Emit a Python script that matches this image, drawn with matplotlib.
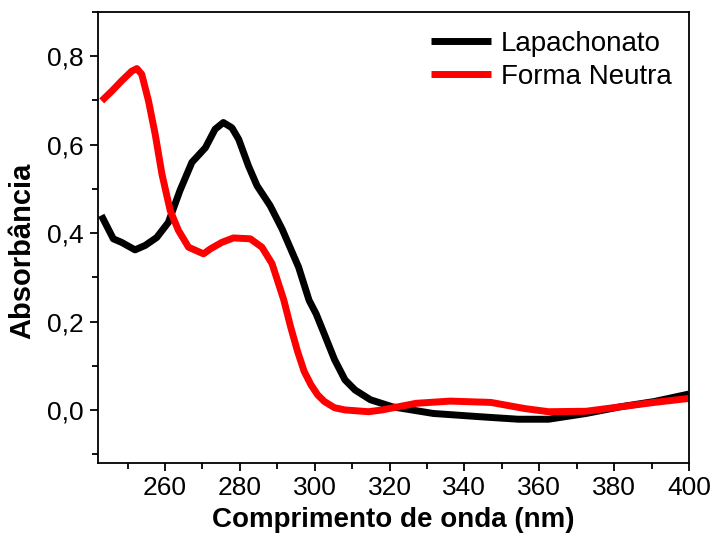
import numpy as np
import matplotlib
matplotlib.use("Agg")
import matplotlib.pyplot as plt
from matplotlib.ticker import MultipleLocator, FuncFormatter

# espectros UV-Vis (comprimento de onda em nm, absorbancia)
wl_lapachonato = [243.0, 246.2, 248.4, 252.0, 254.7, 257.8, 260.9, 264.0, 267.2, 270.8,
                  273.4, 275.6, 277.9, 279.7, 282.3, 284.6, 288.1, 291.3, 295.7, 298.5,
                  300.4, 302.6, 305.3, 308.1, 310.8, 314.9, 320.8, 331.7, 345.3, 354.4,
                  362.5, 372.5, 381.6, 390.7, 400.0]
abs_lapachonato = [0.440, 0.387, 0.379, 0.362, 0.372, 0.390, 0.424, 0.496, 0.560, 0.593,
                   0.635, 0.650, 0.638, 0.612, 0.552, 0.507, 0.462, 0.409, 0.323, 0.248,
                   0.217, 0.171, 0.114, 0.068, 0.045, 0.023, 0.007, -0.008, -0.016, -0.021,
                   -0.021, -0.008, 0.007, 0.019, 0.036]

wl_neutra = [243.1, 245.8, 248.4, 251.1, 252.5, 253.8, 255.6, 257.4, 259.2, 261.4,
             263.6, 266.3, 270.3, 272.1, 275.2, 278.3, 282.8, 285.9, 288.6, 291.7,
             293.6, 295.4, 297.2, 299.0, 300.8, 302.6, 305.3, 308.1, 314.4, 318.0,
             327.1, 336.2, 347.1, 356.2, 362.5, 372.5, 381.6, 390.7, 400.0]
abs_neutra = [0.699, 0.721, 0.744, 0.766, 0.772, 0.759, 0.699, 0.623, 0.533, 0.451,
              0.406, 0.368, 0.353, 0.364, 0.379, 0.389, 0.387, 0.368, 0.331, 0.250,
              0.187, 0.133, 0.087, 0.057, 0.034, 0.019, 0.005, 0.000, -0.004, 0.000,
              0.015, 0.020, 0.017, 0.003, -0.004, -0.003, 0.007, 0.017, 0.026]

plt.rcParams['font.family'] = ['Liberation Sans', 'DejaVu Sans']

fig = plt.figure(figsize=(7.13, 5.37), dpi=100)
ax = fig.add_axes([0.1374, 0.1378, 0.8289, 0.8399])

ax.plot(wl_lapachonato, abs_lapachonato, color="black", lw=5, label="Lapachonato",
        solid_joinstyle="round", solid_capstyle="butt")
ax.plot(wl_neutra, abs_neutra, color="red", lw=5, label="Forma Neutra",
        solid_joinstyle="round", solid_capstyle="butt")

ax.set_xlim(242.1, 400)
ax.set_ylim(-0.12, 0.9)

ax.xaxis.set_major_locator(MultipleLocator(20))
ax.xaxis.set_minor_locator(MultipleLocator(10))
ax.yaxis.set_major_locator(MultipleLocator(0.2))
ax.yaxis.set_minor_locator(MultipleLocator(0.1))
ax.yaxis.set_major_formatter(FuncFormatter(lambda v, p: ("%.1f" % v).replace(".", ",")))

ax.tick_params(which="both", direction="out", top=False, right=False, width=1.3, labelsize=19)
ax.tick_params(which="major", length=6)
ax.tick_params(which="minor", length=4)
ax.tick_params(axis="x", pad=3)
ax.tick_params(axis="y", pad=4)
for s in ax.spines.values():
    s.set_linewidth(1.3)

ax.set_xlabel("Comprimento de onda (nm)", fontsize=20, fontweight="bold")
ax.set_ylabel("Absorbância", fontsize=21, fontweight="bold")
ax.xaxis.set_label_coords(0.5, -0.097)
ax.yaxis.set_label_coords(-0.105, 0.47)

ax.legend(loc="upper right", bbox_to_anchor=(0.99, 0.982), frameon=False, fontsize=20,
          handlelength=2.16, handletextpad=0.36, labelspacing=0.25, borderaxespad=0)

fig.savefig("out.png", dpi=100)
